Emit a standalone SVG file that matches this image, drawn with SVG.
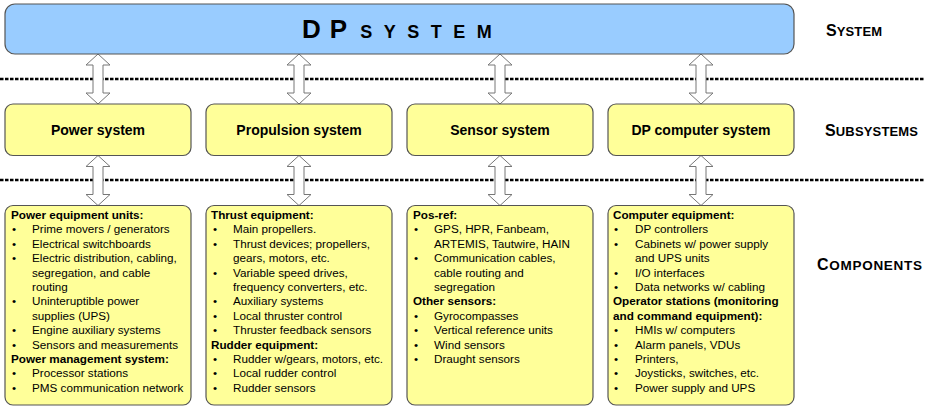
<svg xmlns="http://www.w3.org/2000/svg" width="925" height="408" viewBox="0 0 925 408">
  <style>
    .sys { fill: #99ccff; stroke: #555; stroke-width: 1.2; }
    .sub { fill: #ffff99; stroke: #555; stroke-width: 1.2; }
    .cmp { fill: #ffff99; stroke: #555; stroke-width: 1.2; }
    .title { font-family: "Liberation Sans", Arial, sans-serif; font-weight: bold; fill: #000; }
    .subl { font-family: "Liberation Sans", Arial, sans-serif; font-weight: bold; font-size: 14px; fill: #000; text-anchor: middle; }
    .lvl { font-family: "Liberation Sans", Arial, sans-serif; font-weight: bold; fill: #000; }
    .t { font-family: "Liberation Sans", Arial, sans-serif; font-size: 11.7px; fill: #000; }
    .h { font-weight: bold; }
    .b { text-anchor: middle; }
    .dots { stroke: #000; stroke-width: 2.5; stroke-dasharray: 3.5 1.5; fill: none; }
    .arr { fill: #fff; stroke: #777; stroke-width: 1; }
  </style>
  <defs>
    <!-- double-headed block arrow, 50 px tall, centred on x=0 -->
    <path id="dbl" d="M0,0 L12,11 L5,11 L5,39 L12,39 L0,50 L-12,39 L-5,39 L-5,11 L-12,11 Z"/>
  </defs>

  <!-- level separators -->
  <g id="separators">
    <line class="dots" x1="0" y1="79" x2="925" y2="79"/>
    <line class="dots" x1="0" y1="180" x2="925" y2="180"/>
  </g>

  <!-- connectors -->
  <g id="connectors">
    <use href="#dbl" class="arr" x="98" y="54"/>
    <use href="#dbl" class="arr" x="299" y="54"/>
    <use href="#dbl" class="arr" x="500" y="54"/>
    <use href="#dbl" class="arr" x="701" y="54"/>
    <use href="#dbl" class="arr" x="98" y="155.5"/>
    <use href="#dbl" class="arr" x="299" y="155.5"/>
    <use href="#dbl" class="arr" x="500" y="155.5"/>
    <use href="#dbl" class="arr" x="701" y="155.5"/>
  </g>

  <!-- system level -->
  <g id="dp-system">
    <rect class="sys" x="5" y="4" width="789" height="50" rx="10"/>
    <text class="title" x="302" y="38"><tspan font-size="26" letter-spacing="9">DP</tspan><tspan font-size="18" letter-spacing="11.5" dx="4">SYSTEM</tspan></text>
  </g>

  <!-- level labels -->
  <g id="level-labels">
    <text class="lvl" x="826" y="36" textLength="56" lengthAdjust="spacing"><tspan font-size="16">S</tspan><tspan font-size="13">YSTEM</tspan></text>
    <text class="lvl" x="825" y="136" textLength="93" lengthAdjust="spacing"><tspan font-size="16">S</tspan><tspan font-size="13">UBSYSTEMS</tspan></text>
    <text class="lvl" x="817" y="270" textLength="105" lengthAdjust="spacing"><tspan font-size="16">C</tspan><tspan font-size="13.5">OMPONENTS</tspan></text>
  </g>

  <!-- subsystem level -->
  <g id="power-system">
    <rect class="sub" x="5" y="104" width="186" height="51.5" rx="8"/>
    <text class="subl" x="98" y="134.5">Power system</text>
  </g>
  <g id="propulsion-system">
    <rect class="sub" x="206" y="104" width="186" height="51.5" rx="8"/>
    <text class="subl" x="299" y="134.5">Propulsion system</text>
  </g>
  <g id="sensor-system">
    <rect class="sub" x="407" y="104" width="186" height="51.5" rx="8"/>
    <text class="subl" x="500" y="134.5">Sensor system</text>
  </g>
  <g id="dp-computer-system">
    <rect class="sub" x="608" y="104" width="186" height="51.5" rx="8"/>
    <text class="subl" x="701" y="134.5">DP computer system</text>
  </g>

  <!-- component level -->
  <g id="power-components">
    <rect class="cmp" x="5" y="205.5" width="186" height="199.5" rx="8"/>
    <text class="t">
      <tspan class="h" x="11" y="219">Power equipment units:</tspan>
      <tspan class="b" x="14" y="233.4">•</tspan><tspan x="32" y="233.4">Prime movers / generators</tspan>
      <tspan class="b" x="14" y="247.8">•</tspan><tspan x="32" y="247.8">Electrical switchboards</tspan>
      <tspan class="b" x="14" y="262.2">•</tspan><tspan x="32" y="262.2">Electric distribution, cabling,</tspan>
      <tspan x="32" y="276.6">segregation, and cable</tspan>
      <tspan x="32" y="291">routing</tspan>
      <tspan class="b" x="14" y="305.4">•</tspan><tspan x="32" y="305.4">Uninteruptible power</tspan>
      <tspan x="32" y="319.8">supplies (UPS)</tspan>
      <tspan class="b" x="14" y="334.2">•</tspan><tspan x="32" y="334.2">Engine auxiliary systems</tspan>
      <tspan class="b" x="14" y="348.6">•</tspan><tspan x="32" y="348.6">Sensors and measurements</tspan>
      <tspan class="h" x="11" y="363">Power management system:</tspan>
      <tspan class="b" x="14" y="377.4">•</tspan><tspan x="32" y="377.4">Processor stations</tspan>
      <tspan class="b" x="14" y="391.8">•</tspan><tspan x="32" y="391.8">PMS communication network</tspan>
    </text>
  </g>

  <g id="propulsion-components">
    <rect class="cmp" x="206" y="205.5" width="186" height="199.5" rx="8"/>
    <text class="t">
      <tspan class="h" x="211" y="219">Thrust equipment:</tspan>
      <tspan class="b" x="215" y="233.4">•</tspan><tspan x="233" y="233.4">Main propellers.</tspan>
      <tspan class="b" x="215" y="247.8">•</tspan><tspan x="233" y="247.8">Thrust devices; propellers,</tspan>
      <tspan x="233" y="262.2">gears, motors, etc.</tspan>
      <tspan class="b" x="215" y="276.6">•</tspan><tspan x="233" y="276.6">Variable speed drives,</tspan>
      <tspan x="233" y="291">frequency converters, etc.</tspan>
      <tspan class="b" x="215" y="305.4">•</tspan><tspan x="233" y="305.4">Auxiliary systems</tspan>
      <tspan class="b" x="215" y="319.8">•</tspan><tspan x="233" y="319.8">Local thruster control</tspan>
      <tspan class="b" x="215" y="334.2">•</tspan><tspan x="233" y="334.2">Thruster feedback sensors</tspan>
      <tspan class="h" x="211" y="348.6">Rudder equipment:</tspan>
      <tspan class="b" x="215" y="363">•</tspan><tspan x="233" y="363">Rudder w/gears, motors, etc.</tspan>
      <tspan class="b" x="215" y="377.4">•</tspan><tspan x="233" y="377.4">Local rudder control</tspan>
      <tspan class="b" x="215" y="391.8">•</tspan><tspan x="233" y="391.8">Rudder sensors</tspan>
    </text>
  </g>

  <g id="sensor-components">
    <rect class="cmp" x="407" y="205.5" width="186" height="199.5" rx="8"/>
    <text class="t">
      <tspan class="h" x="413" y="219">Pos-ref:</tspan>
      <tspan class="b" x="416" y="233.4">•</tspan><tspan x="434" y="233.4">GPS, HPR, Fanbeam,</tspan>
      <tspan x="434" y="247.8">ARTEMIS, Tautwire, HAIN</tspan>
      <tspan class="b" x="416" y="262.2">•</tspan><tspan x="434" y="262.2">Communication cables,</tspan>
      <tspan x="434" y="276.6">cable routing and</tspan>
      <tspan x="434" y="291">segregation</tspan>
      <tspan class="h" x="413" y="305.4">Other sensors:</tspan>
      <tspan class="b" x="416" y="319.8">•</tspan><tspan x="434" y="319.8">Gyrocompasses</tspan>
      <tspan class="b" x="416" y="334.2">•</tspan><tspan x="434" y="334.2">Vertical reference units</tspan>
      <tspan class="b" x="416" y="348.6">•</tspan><tspan x="434" y="348.6">Wind sensors</tspan>
      <tspan class="b" x="416" y="363">•</tspan><tspan x="434" y="363">Draught sensors</tspan>
    </text>
  </g>

  <g id="computer-components">
    <rect class="cmp" x="608" y="205.5" width="186" height="199.5" rx="8"/>
    <text class="t">
      <tspan class="h" x="613" y="219">Computer equipment:</tspan>
      <tspan class="b" x="616" y="233.4">•</tspan><tspan x="635" y="233.4">DP controllers</tspan>
      <tspan class="b" x="616" y="247.8">•</tspan><tspan x="635" y="247.8">Cabinets w/ power supply</tspan>
      <tspan x="635" y="262.2">and UPS units</tspan>
      <tspan class="b" x="616" y="276.6">•</tspan><tspan x="635" y="276.6">I/O interfaces</tspan>
      <tspan class="b" x="616" y="291">•</tspan><tspan x="635" y="291">Data networks w/ cabling</tspan>
      <tspan class="h" x="613" y="305.4">Operator stations (monitoring</tspan>
      <tspan class="h" x="613" y="319.8">and command equipment):</tspan>
      <tspan class="b" x="616" y="334.2">•</tspan><tspan x="635" y="334.2">HMIs w/ computers</tspan>
      <tspan class="b" x="616" y="348.6">•</tspan><tspan x="635" y="348.6">Alarm panels, VDUs</tspan>
      <tspan class="b" x="616" y="363">•</tspan><tspan x="635" y="363">Printers,</tspan>
      <tspan class="b" x="616" y="377.4">•</tspan><tspan x="635" y="377.4">Joysticks, switches, etc.</tspan>
      <tspan class="b" x="616" y="391.8">•</tspan><tspan x="635" y="391.8">Power supply and UPS</tspan>
    </text>
  </g>
</svg>
